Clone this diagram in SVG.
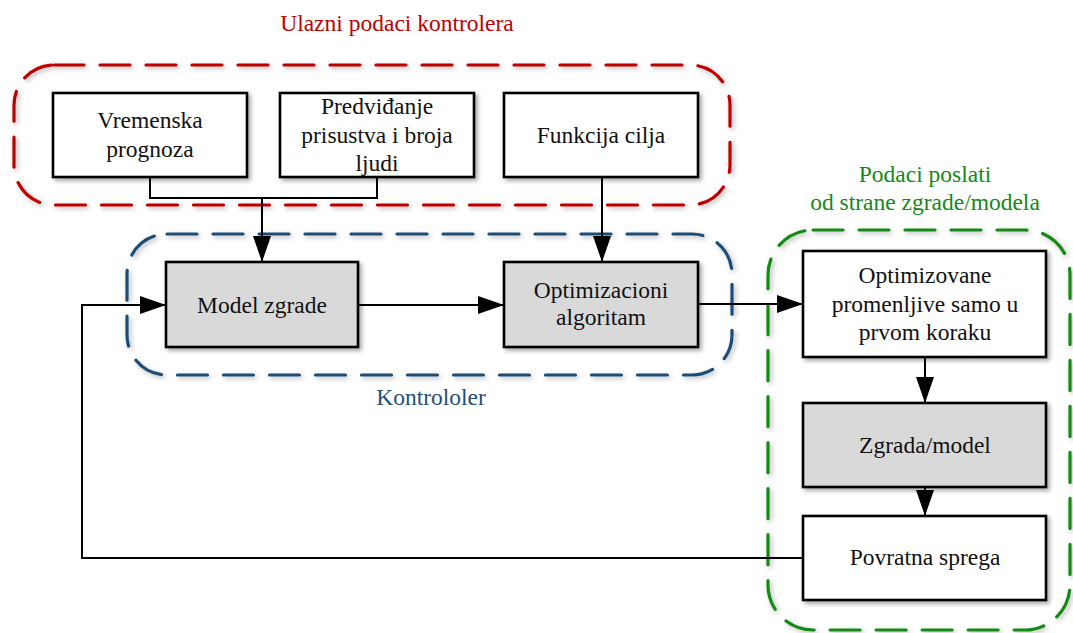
<svg xmlns="http://www.w3.org/2000/svg" width="1073" height="633" viewBox="0 0 1073 633">
<style>
  text { font-family: "Liberation Serif", "Times New Roman", serif; font-size: 23.5px; text-anchor: middle; fill: #111; }
  .box { fill: #fff; stroke: #000; stroke-width: 2.6; filter: url(#sh); }
  .grey { fill: #d9d9d9; }
  .grp { fill: none; stroke-width: 3.2; stroke-dasharray: 30 16; stroke-linecap: round; filter: url(#sh2); }
  .conn { fill: none; stroke: #000; stroke-width: 2; }
  .arr { marker-end: url(#ah); }
</style>
<defs>
  <filter id="sh" x="-10%" y="-10%" width="125%" height="130%">
    <feDropShadow dx="2.5" dy="2.5" stdDeviation="2" flood-color="#000" flood-opacity="0.35"/>
  </filter>
  <filter id="sh2" x="-5%" y="-5%" width="115%" height="120%">
    <feDropShadow dx="2" dy="2" stdDeviation="2.5" flood-color="#000" flood-opacity="0.3"/>
  </filter>
  <marker id="ah" markerUnits="userSpaceOnUse" markerWidth="26" markerHeight="18" viewBox="0 0 26 18" refX="26" refY="9" orient="auto">
    <path d="M0,0 L26,9 L0,18 z" fill="#000"/>
  </marker>
</defs>

<g id="group-inputs">
  <rect class="grp" x="14" y="65" width="716" height="140" rx="40" stroke="#c00000"/>
  <text x="397" y="31" style="fill:#c00000">Ulazni podaci kontrolera</text>
</g>
<g id="group-controller">
  <rect class="grp" x="127" y="234" width="605" height="141" rx="40" stroke="#1f4e79"/>
  <text x="431" y="405" style="fill:#1f4e79">Kontrololer</text>
</g>
<g id="group-building">
  <rect class="grp" x="768" y="230" width="302" height="400" rx="45" stroke="#138a13"/>
  <text x="925" y="182" style="fill:#138a13">Podaci poslati</text>
  <text x="925" y="210" style="fill:#138a13">od strane zgrade/modela</text>
</g>

<g id="connectors">
  <polyline class="conn" points="150,177 150,198 377,198 377,177"/>
  <line class="conn arr" x1="262" y1="198" x2="262" y2="262"/>
  <line class="conn arr" x1="602" y1="177" x2="602" y2="262"/>
  <line class="conn arr" x1="358" y1="305" x2="504" y2="305"/>
  <line class="conn arr" x1="698" y1="304" x2="803" y2="304"/>
  <line class="conn arr" x1="925" y1="357" x2="925" y2="403"/>
  <line class="conn arr" x1="925" y1="487" x2="925" y2="516"/>
  <polyline class="conn arr" points="803,558 82,558 82,305 166,305"/>
</g>

<g id="node-vremenska">
  <rect class="box" x="53" y="93" width="194" height="84"/>
  <text x="150" y="128">Vremenska</text>
  <text x="150" y="157">prognoza</text>
</g>
<g id="node-predvidjanje">
  <rect class="box" x="280" y="93" width="194" height="84"/>
  <text x="377" y="114">Predviđanje</text>
  <text x="377" y="143">prisustva i broja</text>
  <text x="377" y="171">ljudi</text>
</g>
<g id="node-funkcija">
  <rect class="box" x="504" y="93" width="194" height="84"/>
  <text x="601" y="143">Funkcija cilja</text>
</g>
<g id="node-model">
  <rect class="box grey" x="166" y="262" width="192" height="85"/>
  <text x="262" y="313">Model zgrade</text>
</g>
<g id="node-optimizacioni">
  <rect class="box grey" x="504" y="262" width="194" height="85"/>
  <text x="601" y="298">Optimizacioni</text>
  <text x="601" y="325">algoritam</text>
</g>
<g id="node-optimizovane">
  <rect class="box" x="803" y="251" width="243" height="106"/>
  <text x="925" y="283">Optimizovane</text>
  <text x="925" y="312">promenljive samo u</text>
  <text x="925" y="340">prvom koraku</text>
</g>
<g id="node-zgrada">
  <rect class="box grey" x="803" y="403" width="243" height="84"/>
  <text x="925" y="453">Zgrada/model</text>
</g>
<g id="node-povratna">
  <rect class="box" x="803" y="516" width="243" height="84"/>
  <text x="925" y="565">Povratna sprega</text>
</g>
</svg>
